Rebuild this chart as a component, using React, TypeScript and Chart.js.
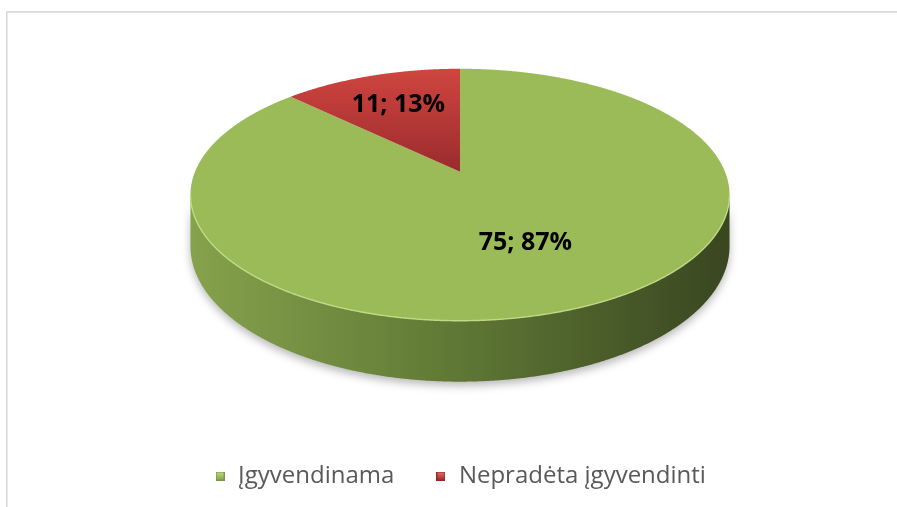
import { useEffect, useRef } from 'react';
import { Chart, registerables } from 'chart.js';

Chart.register(...registerables);

const categories = ['Įgyvendinama', 'Nepradėta įgyvendinti'];
const values = [75, 11];

const topColors: string[][] = [
  ['#9bbb59', '#9bbb59'],
  ['#d0453f', '#9a2b2d'],
];
const sideColors: [number, string][][] = [
  [[0, '#86a24c'], [0.45, '#627c37'], [1, '#394620']],
  [[0, '#b23c38'], [0.5, '#8e2d2a'], [1, '#5e1c1b']],
];
const keyColors = [
  { border: '#7a9641', top: '#bad77f', bottom: '#8aa94c' },
  { border: '#8c2a28', top: '#e26a65', bottom: '#ab2f2c' },
];

const CANVAS_W = 897;
const CANVAS_H = 587;
const SHIFT_Y = 80; // canvas is moved up by this much

const K = -0.1825; // perspective factor
const VR = 0.4596; // vertical ratio of the tilted disc
const DEPTH = 0.188; // side depth relative to radius

function project(cx: number, cy: number, R: number, t: number, f = 1) {
  const X = Math.cos(t) * f;
  const Y = Math.sin(t) * f;
  const w = 1 + K * Y;
  return { x: cx + (R * X) / w, y: cy + (R * VR * Y) / w, w };
}

function makeKey(c: { border: string; top: string; bottom: string }) {
  const cv = document.createElement('canvas');
  cv.width = 9;
  cv.height = 9;
  const g = cv.getContext('2d')!;
  g.fillStyle = c.border;
  g.fillRect(0, 0, 9, 9);
  const gr = g.createLinearGradient(0, 1, 0, 8);
  gr.addColorStop(0, c.top);
  gr.addColorStop(1, c.bottom);
  g.fillStyle = gr;
  g.fillRect(1, 1, 7, 7);
  return cv;
}

const pie3d = {
  id: 'pie3d',
  beforeDraw(chart: any) {
    const ctx = chart.ctx as CanvasRenderingContext2D;
    ctx.save();
    ctx.strokeStyle = '#d9d9d9';
    ctx.lineWidth = 1.6;
    ctx.strokeRect(6.8, 11.9 + SHIFT_Y, 2000, 2000);
    ctx.restore();
  },
  beforeDatasetsDraw(chart: any, _args: any, opts: any) {
    const ctx = chart.ctx as CanvasRenderingContext2D;
    const meta = chart.getDatasetMeta(0);
    const arcs = meta.data as any[];
    const data = chart.data.datasets[0].data as number[];
    const total = data.reduce((a, b) => a + b, 0);
    const cx = arcs[0].x;
    const cy = arcs[0].y;
    const R = arcs[0].outerRadius;
    const ta = Math.asin(-K);
    const tb = Math.PI - ta;
    const step = 0.005;

    // side walls
    arcs.forEach((arc, i) => {
      for (const n of [-1, 0, 1]) {
        const a = Math.max(arc.startAngle, ta + 2 * Math.PI * n);
        const b = Math.min(arc.endAngle, tb + 2 * Math.PI * n);
        if (b <= a) continue;
        ctx.save();
        ctx.beginPath();
        for (let t = a; t <= b + 1e-9; t += step) {
          const p = project(cx, cy, R, Math.min(t, b));
          if (t === a) ctx.moveTo(p.x, p.y);
          else ctx.lineTo(p.x, p.y);
        }
        for (let t = b; t >= a - 1e-9; t -= step) {
          const p = project(cx, cy, R, Math.max(t, a));
          ctx.lineTo(p.x, p.y + (R * DEPTH) / p.w);
        }
        ctx.closePath();
        const g = ctx.createLinearGradient(cx - R * 1.02, 0, cx + R * 1.02, 0);
        sideColors[i].forEach(([o, c]) => g.addColorStop(o, c));
        ctx.fillStyle = g;
        ctx.shadowColor = 'rgba(0,0,0,0.28)';
        ctx.shadowBlur = 8;
        ctx.shadowOffsetY = 4;
        ctx.fill();
        ctx.restore();
      }
    });

    // top faces
    arcs.forEach((arc, i) => {
      ctx.save();
      ctx.beginPath();
      ctx.moveTo(cx, cy);
      for (let t = arc.startAngle; t <= arc.endAngle + 1e-9; t += step) {
        const p = project(cx, cy, R, Math.min(t, arc.endAngle));
        ctx.lineTo(p.x, p.y);
      }
      const pe = project(cx, cy, R, arc.endAngle);
      ctx.lineTo(pe.x, pe.y);
      ctx.closePath();
      const topY = cy - (R * VR) / (1 - K);
      const g = ctx.createLinearGradient(0, topY, 0, cy);
      g.addColorStop(0, topColors[i][0]);
      g.addColorStop(1, topColors[i][1]);
      ctx.fillStyle = g;
      ctx.fill();
      ctx.restore();
    });

    // rim highlight on front edge
    ctx.save();
    ctx.beginPath();
    for (let t = ta; t <= tb; t += step) {
      const p = project(cx, cy, R, t);
      if (t === ta) ctx.moveTo(p.x, p.y);
      else ctx.lineTo(p.x, p.y);
    }
    ctx.strokeStyle = 'rgba(196,222,138,0.9)';
    ctx.lineWidth = 1.4;
    ctx.stroke();
    ctx.restore();

    // data labels
    ctx.save();
    ctx.fillStyle = '#000000';
    ctx.font = "bold 25px 'Open Sans', sans-serif";
    ctx.textAlign = 'center';
    ctx.textBaseline = 'middle';
    arcs.forEach((arc, i) => {
      const mid = (arc.startAngle + arc.endAngle) / 2;
      const f = opts.labelRadius[i];
      const p = project(cx, cy, R, mid, f);
      const v = data[i];
      const pct = Math.round((v / total) * 100);
      ctx.fillText(`${v}; ${pct}%`, p.x, p.y);
    });
    ctx.restore();
    return false;
  },
};

export default function App() {
  const ref = useRef<HTMLCanvasElement | null>(null);
  useEffect(() => {
    if (!ref.current) return;
    const keys = keyColors.map(makeKey);
    const chart = new Chart(ref.current, {
      type: 'pie',
      data: {
        labels: categories,
        datasets: [
          {
            data: values,
            backgroundColor: topColors.map((c) => c[0]),
            borderWidth: 0,
            radius: 265,
          } as any,
        ],
      },
      options: {
        animation: false,
        responsive: false,
        events: [],
        layout: { padding: { left: 23, right: 0, top: 0, bottom: 9 } },
        plugins: {
          tooltip: { enabled: false },
          pie3d: { labelRadius: [0.57, 0.66] },
          legend: {
            position: 'bottom',
            labels: {
              usePointStyle: true,
              pointStyleWidth: 12,
              padding: 40.5,
              color: '#595959',
              font: { family: "'Open Sans', sans-serif", size: 24 },
              generateLabels: () =>
                categories.map((c, i) => ({
                  text: c,
                  pointStyle: keys[i],
                  fillStyle: keyColors[i].bottom,
                  strokeStyle: keyColors[i].border,
                  lineWidth: 0,
                  fontColor: '#595959',
                  hidden: false,
                  index: i,
                  datasetIndex: 0,
                })),
            },
          },
        } as any,
      },
      plugins: [pie3d as any],
    });
    return () => chart.destroy();
  }, []);
  return (
    <div
      style={{
        position: 'fixed',
        left: 0,
        top: 0,
        width: 897,
        height: 507,
        overflow: 'hidden',
        background: '#ffffff',
      }}
    >
      <canvas
        ref={ref}
        width={CANVAS_W}
        height={CANVAS_H}
        style={{ display: 'block', position: 'absolute', left: 0, top: -SHIFT_Y, width: CANVAS_W, height: CANVAS_H }}
      />
    </div>
  );
}
